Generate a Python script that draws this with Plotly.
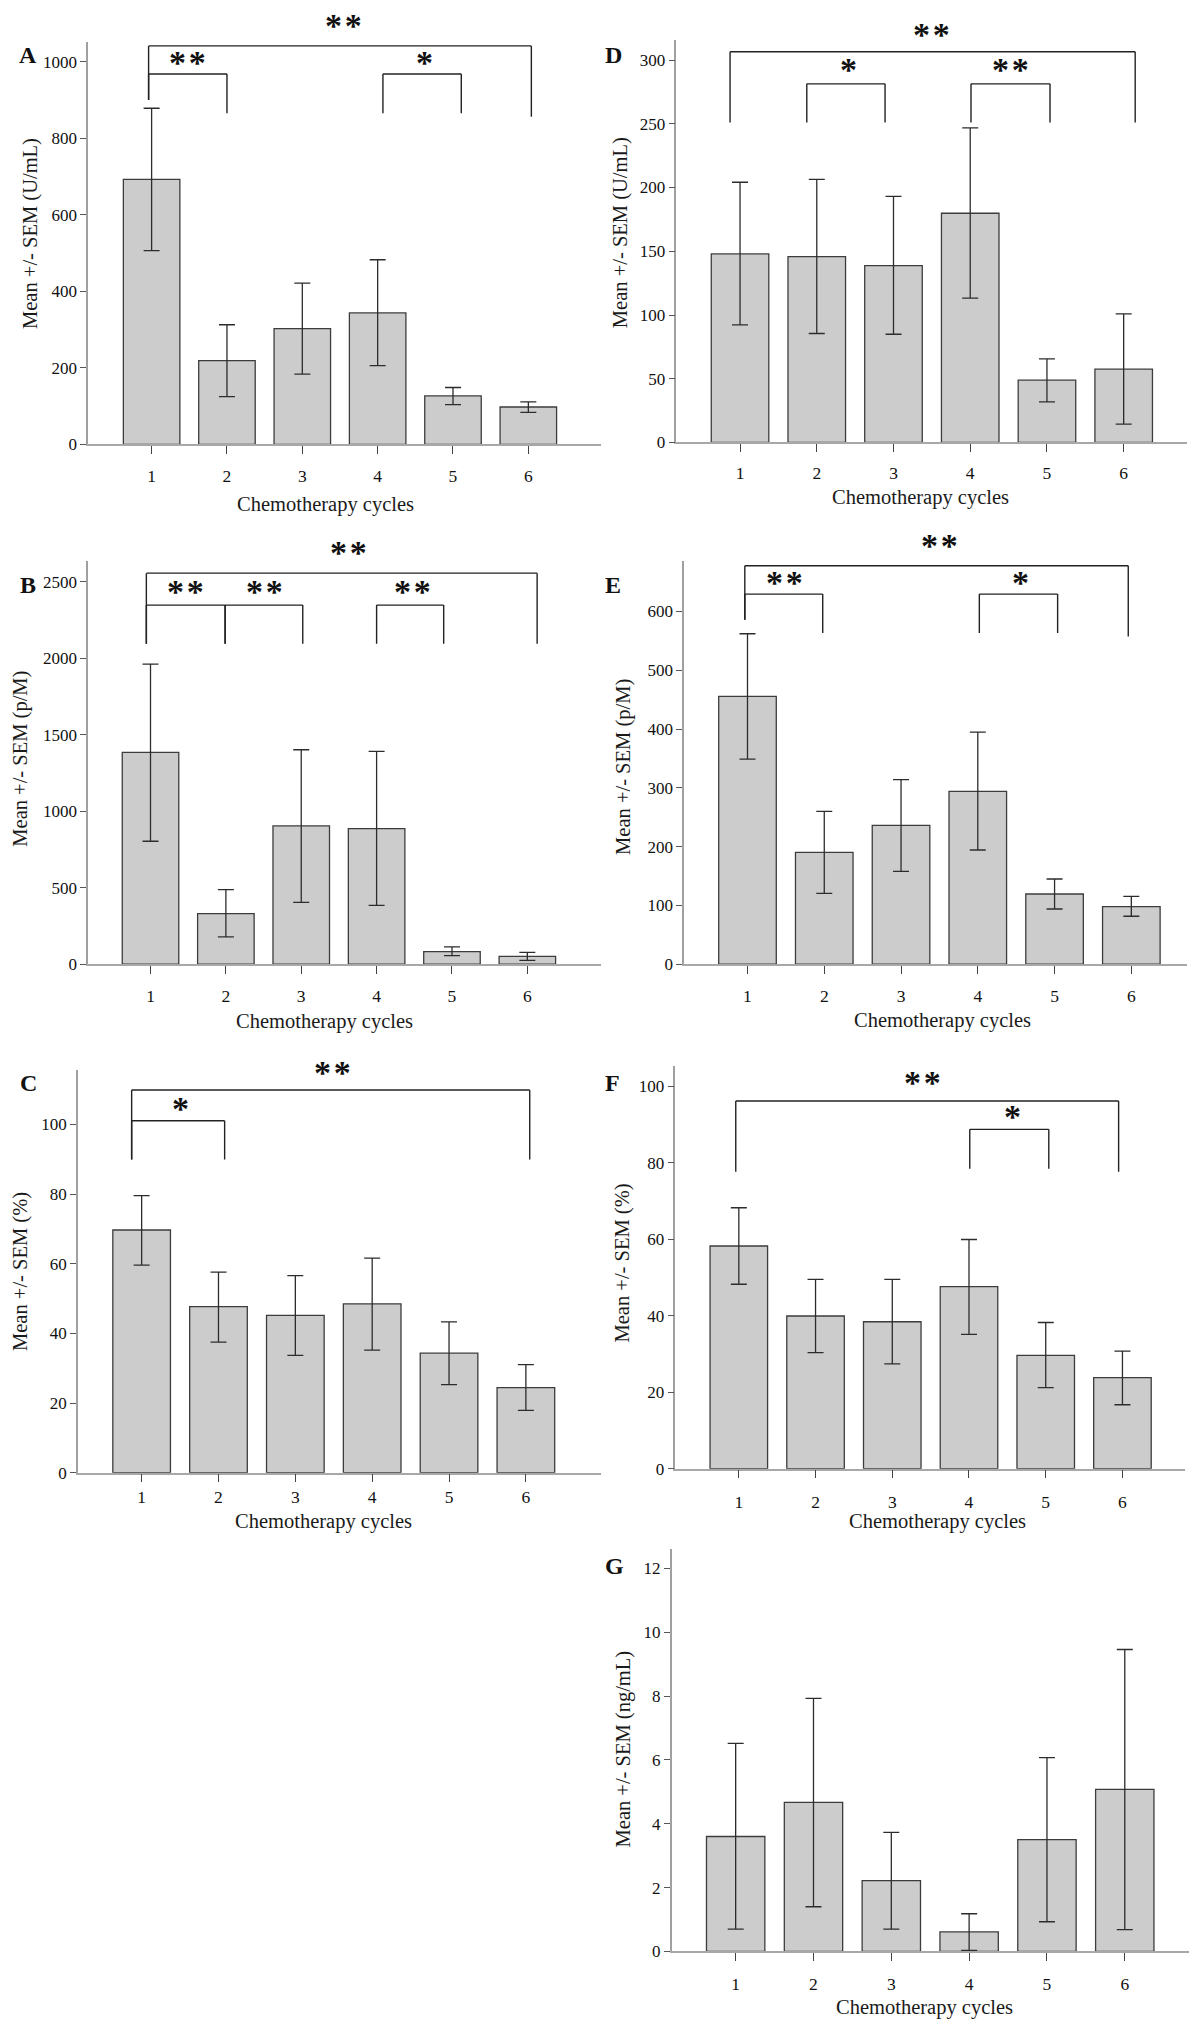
import plotly.graph_objects as go

W, H = 1200, 2027
FONT = "Liberation Serif"

cycles = [1, 2, 3, 4, 5, 6]
cycle_labels = ["1", "2", "3", "4", "5", "6"]
x_title = "Chemotherapy cycles"

# Panel A: Mean +/- SEM (U/mL)
a_mean = [693, 219.5, 303, 344, 127, 98]
a_upper = [879, 313, 422, 483, 149, 111.5]
a_lower = [507, 125, 184, 206, 104, 84]
# Panel B: Mean +/- SEM (p/M)
b_mean = [1385, 331, 904, 886, 83, 52]
b_upper = [1962, 488, 1402, 1392, 113, 78]
b_lower = [804, 179, 405, 385, 57, 26]
# Panel C: Mean +/- SEM (%)
c_mean = [69.7, 47.7, 45.2, 48.5, 34.3, 24.4]
c_upper = [79.6, 57.6, 56.6, 61.6, 43.3, 31.0]
c_lower = [59.6, 37.5, 33.7, 35.2, 25.3, 17.9]
# Panel D: Mean +/- SEM (U/mL)
d_mean = [147.9, 145.8, 138.8, 179.8, 48.9, 57.5]
d_upper = [204.1, 206.4, 193.1, 246.7, 65.6, 100.9]
d_lower = [92.2, 85.5, 84.9, 113.2, 31.9, 14.4]
# Panel E: Mean +/- SEM (p/M)
e_mean = [455.5, 190.4, 236.3, 294, 119.5, 98]
e_upper = [562, 260, 313.9, 394.9, 145, 115.6]
e_lower = [349, 120.7, 158.1, 194.3, 94, 81.6]
# Panel F: Mean +/- SEM (%)
f_mean = [58.2, 39.9, 38.4, 47.6, 29.6, 23.8]
f_upper = [68.2, 49.5, 49.5, 59.9, 38.2, 30.7]
f_lower = [48.2, 30.3, 27.4, 35.1, 21.2, 16.7]
# Panel G: Mean +/- SEM (ng/mL)
g_mean = [3.60, 4.67, 2.22, 0.61, 3.50, 5.08]
g_upper = [6.52, 7.93, 3.73, 1.18, 6.07, 9.46]
g_lower = [0.70, 1.40, 0.70, 0.03, 0.93, 0.68]

y_titles = ["Mean +/- SEM (U/mL)", "Mean +/- SEM (p/M)", "Mean +/- SEM (%)",
            "Mean +/- SEM (U/mL)", "Mean +/- SEM (p/M)", "Mean +/- SEM (%)",
            "Mean +/- SEM (ng/mL)"]
panel_letters = ["A", "B", "C", "D", "E", "F", "G"]

TWO = "*\u200a*"
ONE = "*"

# significance brackets: (x_start, x_end, level, left leg bottom, right leg bottom)
a_brackets = [(0.96, 6.04, 1042, 900.6, 857), (0.96, 2.0, 968.6, 900.6, 866), (4.07, 5.11, 968.6, 866, 866)]
a_stars = [(3.55, 1101, TWO), (1.48, 1005, TWO), (4.62, 1005, ONE)]
b_brackets = [(0.945, 6.13, 2556.6, 2095, 2095), (0.945, 1.99, 2347.5, 2095, 2095),
              (1.99, 3.02, 2347.5, 2095, 2095), (4.0, 4.89, 2347.5, 2095, 2095)]
b_stars = [(3.63, 2709, TWO), (1.47, 2454, TWO), (2.51, 2454, TWO), (4.47, 2454, TWO)]
c_brackets = [(0.87, 6.05, 109.9, 89.95, 89.95), (0.87, 2.08, 101.1, 89.95, 89.95)]
c_stars = [(3.49, 115.6, TWO), (1.51, 105.3, ONE)]
d_brackets = [(0.87, 6.15, 306.5, 250.9, 250.9), (1.87, 2.89, 281.3, 250.9, 250.9), (4.01, 5.04, 281.3, 250.9, 250.9)]
d_stars = [(3.5, 322.2, TWO), (2.42, 294.8, ONE), (4.53, 294.8, TWO)]
e_brackets = [(0.965, 5.96, 677.6, 585.8, 557.5), (0.965, 1.98, 629.5, 585.8, 563.2), (4.02, 5.04, 629.5, 563.2, 563.2)]
e_stars = [(3.5, 716, TWO), (1.48, 653.8, TWO), (4.56, 653.8, ONE)]
f_brackets = [(0.96, 5.95, 96.1, 77.6, 77.6), (4.01, 5.04, 88.7, 78.4, 78.4)]
f_stars = [(3.39, 101.6, TWO), (4.57, 92.6, ONE)]
g_brackets = []
g_stars = []

panels = [
    (a_mean, a_upper, a_lower, a_brackets, a_stars),
    (b_mean, b_upper, b_lower, b_brackets, b_stars),
    (c_mean, c_upper, c_lower, c_brackets, c_stars),
    (d_mean, d_upper, d_lower, d_brackets, d_stars),
    (e_mean, e_upper, e_lower, e_brackets, e_stars),
    (f_mean, f_upper, f_lower, f_brackets, f_stars),
    (g_mean, g_upper, g_lower, g_brackets, g_stars),
]

# layout geometry (pixels): x-domain, y-domain (top, bottom), x range, y range top, dtick,
# y-title center, x-title center, letter center, tick label standoff
geom = [
    ((88, 600), (41.7, 444.7), (0.158, 6.967), 1053, 200, (31, 234), (325, 505), (27.5, 55), 7),
    ((88, 600), (561.7, 964.7), (0.173, 6.98), 2633, 500, (21, 759), (324, 1021.7), (28, 585), 7),
    ((77.7, 600), (1070.7, 1473.3), (0.17, 6.98), 115.6, 20, (21, 1272.5), (323, 1521.7), (28, 1083), 0),
    ((675, 1185), (40, 442.7), (0.17, 6.83), 315.7, 50, (619.5, 232.5), (919, 498), (612.5, 55), 6),
    ((682.8, 1185), (561.7, 964.7), (0.175, 6.73), 685, 100, (621.5, 767.5), (940.8, 1021), (611.6, 585), 7),
    ((674.1, 1183), (1066.7, 1469.3), (0.174, 6.82), 105.2, 20, (621.5, 1263.3), (935.9, 1521.7), (611.6, 1083.3), 9),
    ((670.2, 1187), (1550, 1952.3), (0.176, 6.83), 12.6, 2, (622, 1750), (922.2, 2008.3), (613.6, 1566.7), 8),
]

SX = 1.002   # small horizontal correction
SY = 1.0045  # small vertical correction


def px(x):
    return x * SX / W


def py(y):
    return 1 - y * SY / H


fig = go.Figure()
shapes = []
annotations = []
layout_axes = {}

for i, ((mean, upper, lower, brackets, stars), g) in enumerate(zip(panels, geom)):
    n = i + 1
    xa = "x" if n == 1 else f"x{n}"
    ya = "y" if n == 1 else f"y{n}"
    (x0, x1), (yt, yb), xr, ytop, dtick, ytc, xtc, lc, standoff = g
    fig.add_trace(go.Bar(
        x=cycles, y=mean, width=0.75, xaxis=xa, yaxis=ya, showlegend=False,
        marker=dict(color="#cccccc", line=dict(color="#3c3c3c", width=1.3)),
        error_y=dict(type="data", symmetric=False,
                     array=[u - m for u, m in zip(upper, mean)],
                     arrayminus=[m - l for m, l in zip(mean, lower)],
                     color="#2c2c2c", thickness=1.3, width=8),
    ))
    xkey = "xaxis" if n == 1 else f"xaxis{n}"
    ykey = "yaxis" if n == 1 else f"yaxis{n}"
    layout_axes[xkey] = dict(
        domain=[px(x0), px(x1)], range=list(xr), anchor=ya,
        tickmode="array", tickvals=cycles, ticktext=cycle_labels,
        ticks="outside", ticklen=8, tickwidth=1.3, tickcolor="#444444",
        showline=True, linecolor="#a8a8a8", linewidth=1.5,
        showgrid=False, zeroline=False, ticklabelstandoff=standoff,
        tickfont=dict(family=FONT, size=17.5, color="#111111"), fixedrange=True,
    )
    layout_axes[ykey] = dict(
        domain=[py(yb), py(yt)], range=[0, ytop], anchor=xa, dtick=dtick,
        ticks="outside", ticklen=6, tickwidth=1.3, tickcolor="#555555",
        showline=True, linecolor="#a0a0a0", linewidth=1.5,
        showgrid=False, zeroline=False,
        tickfont=dict(family=FONT, size=17, color="#111111"), fixedrange=True,
    )
    annotations.append(dict(text=x_title, x=px(xtc[0]), y=py(xtc[1]), xref="paper", yref="paper",
                            showarrow=False, xanchor="center", yanchor="middle",
                            font=dict(family=FONT, size=20.5, color="#1a1a1a")))
    annotations.append(dict(text=y_titles[i], x=px(ytc[0]), y=py(ytc[1]), xref="paper", yref="paper",
                            showarrow=False, textangle=-90, xanchor="center", yanchor="middle",
                            font=dict(family=FONT, size=20.5, color="#1a1a1a")))
    annotations.append(dict(text="<b>" + panel_letters[i] + "</b>", x=px(lc[0]), y=py(lc[1]),
                            xref="paper", yref="paper", showarrow=False,
                            xanchor="center", yanchor="middle",
                            font=dict(family=FONT, size=24, color="#111111")))
    for (bx0, bx1, lvl, l0, l1) in brackets:
        line = dict(color="#222222", width=1.4)
        shapes.append(dict(type="line", xref=xa, yref=ya, x0=bx0, x1=bx1, y0=lvl, y1=lvl, line=line))
        shapes.append(dict(type="line", xref=xa, yref=ya, x0=bx0, x1=bx0, y0=lvl, y1=l0, line=line))
        shapes.append(dict(type="line", xref=xa, yref=ya, x0=bx1, x1=bx1, y0=lvl, y1=l1, line=line))
    for (sx, sy, st) in stars:
        annotations.append(dict(text="<b>" + st + "</b>", x=sx, y=sy / ytop, xref=xa, yref=ya + " domain",
                                showarrow=False, xanchor="center", yanchor="middle", yshift=-2.5,
                                font=dict(family=FONT, size=34, color="#111111")))

fig.update_layout(
    width=W, height=H, margin=dict(l=0, r=0, t=0, b=0),
    paper_bgcolor="white", plot_bgcolor="white",
    shapes=shapes, annotations=annotations, bargap=0.25,
    **layout_axes,
)

fig.write_html("out.html", config={"displayModeBar": False},
               post_script="document.body.style.margin='0';document.body.style.overflow='hidden';")
